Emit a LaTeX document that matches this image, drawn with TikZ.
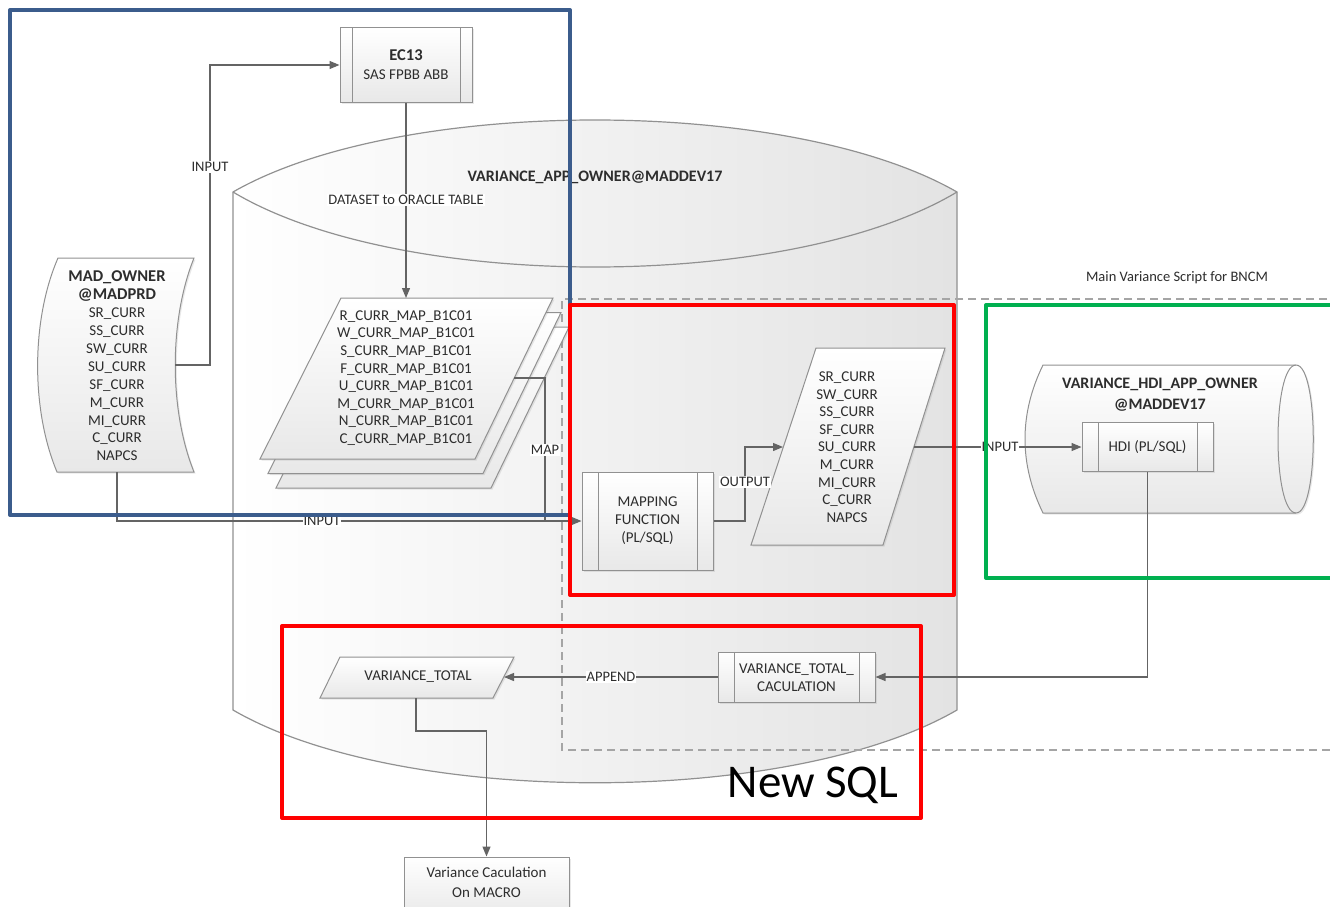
\documentclass[tikz,border=0pt]{standalone}
\usepackage{fontspec}
\setmainfont{Carlito}
\usetikzlibrary{arrows.meta,shadows}

\definecolor{edge}{RGB}{145,145,145}
\definecolor{wirecol}{RGB}{100,100,100}
\definecolor{ink}{RGB}{45,45,45}
\definecolor{dashgray}{RGB}{165,165,165}
\definecolor{hlblue}{RGB}{59,92,140}
\definecolor{hlred}{RGB}{255,0,0}
\definecolor{hlgreen}{RGB}{0,176,80}

\newcommand\titletext[1]{{\bfseries\fontsize{16.5}{19}\selectfont #1}}

\tikzset{
  shp/.style={draw=edge, line width=1pt, top color=white, bottom color=black!9,
    drop shadow={opacity=0.18, shadow xshift=1.5pt, shadow yshift=-1.5pt}},
  procbox/.style={shp, rectangle, inner sep=0pt,
    path picture={\draw[edge, line width=1pt]
      ([xshift=#1]path picture bounding box.north west) -- ([xshift=#1]path picture bounding box.south west)
      ([xshift=-#1]path picture bounding box.north east) -- ([xshift=-#1]path picture bounding box.south east);}},
  procbox/.default=15pt,
  link/.style={draw=wirecol, line width=1.2pt},
  arr/.style={link, -{Triangle[length=10pt,width=8pt]}},
  lbl/.style={fill=white, inner sep=1pt, text=ink, font=\fontsize{14.5}{16}\selectfont},
  body/.style={text=ink, align=center, font=\fontsize{15}{17.6}\selectfont},
  hl/.style={line width=4pt, line join=round},
}

\begin{document}
\begin{tikzpicture}[x=1pt, y=-1pt]
\useasboundingbox (0,0) rectangle (1330,907);
\fill[white] (0,0) rectangle (1330,907);

% database cylinder VARIANCE_APP_OWNER
\path[left color=white, right color=black!11]
  (233,192) .. controls (400,96) and (790,96) .. (957,192) -- (957,710)
  .. controls (790,807) and (400,807) .. (233,710) -- cycle;
\draw[edge, line width=1.2pt]
  (233,192) .. controls (400,96) and (790,96) .. (957,192) -- (957,710)
  .. controls (790,807) and (400,807) .. (233,710) -- cycle;
\draw[edge, line width=1.2pt] (233,192) .. controls (400,292) and (790,292) .. (957,192);
\node[text=ink, font=\bfseries\fontsize{16}{19}\selectfont] (appdb) at (595,177) {VARIANCE\_APP\_OWNER@MADDEV17};

% script frame
\draw[dashgray, line width=1.4pt, dash pattern=on 8pt off 5pt] (1340,299) -- (562,299) -- (562,750) -- (1340,750);
\node[text=ink, font=\fontsize{14.5}{16}\selectfont] (frametitle) at (1177,278) {Main Variance Script for BNCM};

% source schema MAD_OWNER
\path[shp] (58,258) -- (194,258) .. controls (169,320) and (169,410) .. (194,472) -- (57,472)
  .. controls (31,410) and (31,320) .. (58,258) -- cycle;
\node[body, font=\fontsize{15}{17.9}\selectfont] (mad) at (117,366)
  {\titletext{MAD\_OWNER}\\\titletext{@MADPRD}\\SR\_CURR\\SS\_CURR\\SW\_CURR\\SU\_CURR\\SF\_CURR\\M\_CURR\\MI\_CURR\\C\_CURR\\NAPCS};
\coordinate (madR) at (175,365);
\coordinate (madB) at (117,472);

% EC13 process
\node[procbox=12pt, minimum width=132, minimum height=74] (ec13) at (406,65) {};
\node[body, font=\fontsize{15}{19}\selectfont] (ec13txt) at (406,65) {\titletext{EC13}\\SAS FPBB ABB};

% stacked mapping tables
\path[shp, shift={(16,29)}] (341,298) -- (553,298) -- (475,459) -- (260,459) -- cycle;
\path[shp, shift={(8,14.5)}] (341,298) -- (553,298) -- (475,459) -- (260,459) -- cycle;
\path[shp] (341,298) -- (553,298) -- (475,459) -- (260,459) -- cycle;
\node[body] (maps) at (406,378)
  {R\_CURR\_MAP\_B1C01\\W\_CURR\_MAP\_B1C01\\S\_CURR\_MAP\_B1C01\\F\_CURR\_MAP\_B1C01\\U\_CURR\_MAP\_B1C01\\M\_CURR\_MAP\_B1C01\\N\_CURR\_MAP\_B1C01\\C\_CURR\_MAP\_B1C01};
\coordinate (stackTop) at (406,298);
\coordinate (mapR) at (514,378);

% mapping function
\node[procbox=16pt, minimum width=131, minimum height=98] (mapf) at (647.5,521) {};
\node[body, font=\fontsize{15}{18}\selectfont] (mapftxt) at (647.5,521) {MAPPING\\FUNCTION\\(PL/SQL)};

% output tables
\path[shp] (816,348) -- (945,348) -- (883,545) -- (751,545) -- cycle;
\node[body] (outs) at (847,447)
  {SR\_CURR\\SW\_CURR\\SS\_CURR\\SF\_CURR\\SU\_CURR\\M\_CURR\\MI\_CURR\\C\_CURR\\NAPCS};
\coordinate (outL) at (783,447);
\coordinate (outR) at (914,447);

% HDI database
\path[shp] (1043,365) -- (1296,365) .. controls (1319,365) and (1319,513) .. (1296,513) -- (1043,513)
  .. controls (1019,464) and (1019,414) .. (1043,365) -- cycle;
\draw[edge, line width=1pt] (1296,365) .. controls (1272,365) and (1272,513) .. (1296,513);
\node[text=ink, align=center, font=\bfseries\fontsize{16}{21}\selectfont] (hdidb) at (1160,394.5)
  {VARIANCE\_HDI\_APP\_OWNER\\@MADDEV17};
\node[procbox=16pt, minimum width=131, minimum height=49, body] (hdi) at (1147.5,447) {HDI (PL/SQL)};

% totals
\node[procbox=16pt, minimum width=157, minimum height=50] (vtc) at (796.5,677) {};
\node[body, font=\fontsize{15}{18}\selectfont] (vtctxt) at (796.5,678) {VARIANCE\_TOTAL\_\\CACULATION};
\path[shp] (340,657) -- (514,657) -- (493,698) -- (320,698) -- cycle;
\node[body] (vt) at (418,677) {VARIANCE\_TOTAL};
\coordinate (vtR) at (504,677);
\coordinate (vtB) at (416,698);

\node[shp, rectangle, minimum width=165, minimum height=62] (vcm) at (486.5,888) {};
\node[body, font=\fontsize{15}{20}\selectfont] (vcmtxt) at (486.5,882) {Variance Caculation\\On MACRO};

% connectors
\draw[arr] (madR) -- (210,365) |- (ec13.west);
\node[lbl] (l1) at (210,167) {INPUT};
\draw[arr] (ec13.south) -- (stackTop);
\node[lbl] (l2) at (406,200) {DATASET to ORACLE TABLE};
\draw[link] (mapR) -- (545,378) -- (545,521);
\node[lbl] (l3) at (545,450) {MAP};
\draw[arr] (madB) |- (mapf.west);
\node[lbl] (l4) at (322,521) {INPUT};
\draw[arr] (mapf.east) -- (745,521) |- (outL);
\node[lbl] (l5) at (745,482) {OUTPUT};
\draw[arr] (outR) -- (hdi.west);
\node[lbl] (l6) at (1000,447) {INPUT};
\draw[arr] (hdi.south) |- (vtc.east);
\draw[arr] (vtc.west) -- (vtR);
\node[lbl] (l7) at (611,677) {APPEND};
\draw[arr] (vtB) -- (416,731) -| (vcm.north);

% highlight frames
\draw[hl, hlblue] (10,10) rectangle (570,515);
\draw[hl, hlred] (570,305) rectangle (954,595);
\draw[hl, hlgreen] (986,305) rectangle (1345,578);
\draw[hl, hlred] (282,626) rectangle (921,818);
\node[text=black, font=\fontsize{47}{50}\selectfont] (newsql) at (813,785) {New SQL};
\end{tikzpicture}
\end{document}
